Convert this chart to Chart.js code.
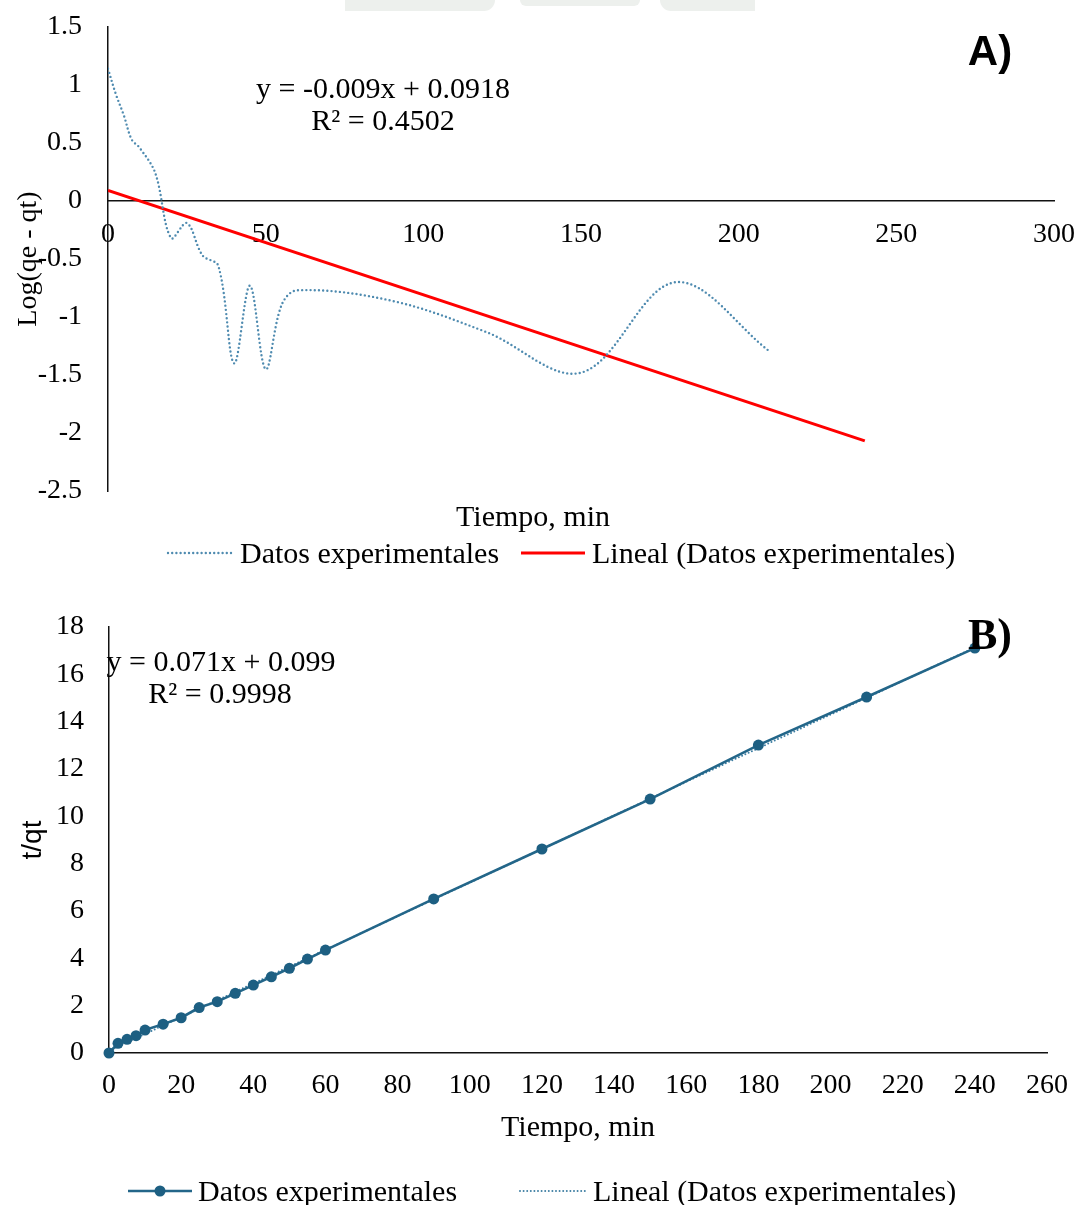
<!DOCTYPE html>
<html>
<head>
<meta charset="utf-8">
<script src="https://cdn.jsdelivr.net/npm/chart.js@4.4.1/dist/chart.umd.min.js"></script>
<style>
    body { margin: 0; width: 1074px; height: 1205px; overflow: hidden; background: #fff; position: relative; }
    canvas { display: block; position: absolute; left: 0; }
    #chartA { top: 0; }
    #chartB { top: 580px; }
    .mark { position: absolute; top: 0; height: 11px; background: #edf0ed; }
</style>
</head>
<body>
<div class="mark" style="left:345px;width:150px;border-radius:0 0 40px 0;"></div>
<div class="mark" style="left:520px;width:120px;border-radius:0 0 60px 60px;height:6px;"></div>
<div class="mark" style="left:660px;width:95px;border-radius:0 0 0 40px;"></div>
<canvas id="chartA" width="1092" height="580"></canvas>
<canvas id="chartB" width="1074" height="625"></canvas>
<script>
/*
 * Values
 */
// A) pseudo first order
const timeA = [0, 2.5, 5, 7.5, 10, 15, 20, 25, 30, 35, 40, 45, 50, 55, 60, 90, 120, 150, 180, 210];
const logValues = [1.14, 0.92, 0.74, 0.53, 0.46, 0.24, -0.32, -0.19, -0.47, -0.56, -1.40, -0.73, -1.45, -0.90, -0.77, -0.86, -1.13, -1.48, -0.70, -1.30];
const trendTimeA = [0, 240];
const trendValuesA = [0.092, -2.068];
const xTicksA = [0, 50, 100, 150, 200, 250, 300];
const yTicksA = [-2.5, -2, -1.5, -1, -0.5, 0, 0.5, 1, 1.5];

// B) pseudo second order
const timeB = [0, 2.5, 5, 7.5, 10, 15, 20, 25, 30, 35, 40, 45, 50, 55, 60, 90, 120, 150, 180, 210, 240];
const tqtValues = [0, 0.41, 0.58, 0.73, 0.97, 1.22, 1.49, 1.92, 2.17, 2.52, 2.87, 3.22, 3.58, 3.97, 4.35, 6.51, 8.62, 10.73, 13.01, 15.04, 17.11];
const trendTimeB = [0, 240];
const trendValuesB = [0.099, 17.14];
const xTicksB = [0, 20, 40, 60, 80, 100, 120, 140, 160, 180, 200, 220, 240, 260];
const yTicksB = [0, 2, 4, 6, 8, 10, 12, 14, 16, 18];

const serif = '"Liberation Serif", "Times New Roman", serif';
const sans = '"Liberation Sans", Arial, sans-serif';

function toPoints(xs, ys) {
    let pts = [];
    for (let i = 0; i < xs.length; i++) {
        pts.push({x: xs[i], y: ys[i]});
    }
    return pts;
}

// Draws the free texts (equations, panel letter, titles) and the legend
const overlayPlugin = {
    id: 'overlay',
    afterDraw: (chart, args, options) => {
        const {ctx} = chart;
        ctx.save();
        ctx.fillStyle = '#000';
        ctx.textBaseline = 'middle';

        (options.texts || []).forEach(t => {
            ctx.font = t.font;
            ctx.textAlign = t.align || 'center';
            if (t.rotate) {
                ctx.save();
                ctx.translate(t.x, t.y);
                ctx.rotate(-Math.PI / 2);
                ctx.fillText(t.text, 0, 0);
                ctx.restore();
            } else {
                ctx.fillText(t.text, t.x, t.y);
            }
        });

        (options.legend || []).forEach(item => {
            const ds = chart.data.datasets[item.dataset];
            ctx.save();
            ctx.strokeStyle = ds.borderColor;
            ctx.lineWidth = ds.borderWidth;
            ctx.lineCap = ds.borderCapStyle || 'butt';
            ctx.setLineDash(ds.borderDash || []);
            ctx.beginPath();
            ctx.moveTo(item.x1, item.y);
            ctx.lineTo(item.x2, item.y);
            ctx.stroke();
            if (ds.pointRadius > 0) {
                ctx.setLineDash([]);
                ctx.fillStyle = ds.pointBackgroundColor;
                ctx.beginPath();
                ctx.arc((item.x1 + item.x2) / 2, item.y, ds.pointRadius, 0, Math.PI * 2);
                ctx.fill();
            }
            ctx.restore();
            ctx.font = '30px ' + serif;
            ctx.textAlign = 'left';
            ctx.fillText(item.text, item.textX, item.y + 2);
        });
        ctx.restore();
    }
};

// Fixed axis sizes so the plot area sits where it does in the picture
function fixYAxis(width) {
    return (scale) => {
        scale.width = width;
        scale.paddingTop = 0;
        scale.paddingBottom = 0;
    };
}

function fixXAxis(height) {
    return (scale) => {
        scale.height = height;
        scale.paddingLeft = 0;
        scale.paddingRight = 0;
    };
}

function setTicks(values) {
    return (scale) => {
        scale.ticks = values.map(v => ({value: v}));
    };
}

const plainLabel = (value) => String(value);

// Sets up the Log(qe - qt) graph
function setupGraphA() {
    const ctx = document.getElementById('chartA');
    new Chart(ctx, {
        type: 'line',
        data: {
            datasets: [
                {
                    label: 'Datos experimentales',
                    data: toPoints(timeA, logValues),
                    borderColor: '#4f8bb0',
                    borderWidth: 2.4,
                    borderDash: [0, 4.2],
                    borderCapStyle: 'round',
                    pointRadius: 0,
                    tension: 0.35,
                    fill: false
                },
                {
                    label: 'Lineal (Datos experimentales)',
                    data: toPoints(trendTimeA, trendValuesA),
                    borderColor: '#ff0000',
                    borderWidth: 3,
                    pointRadius: 0,
                    tension: 0,
                    fill: false
                }
            ]
        },
        options: {
            responsive: false,
            animation: false,
            devicePixelRatio: 1,
            layout: { padding: {left: 0, top: 27, right: 38, bottom: 89} },
            scales: {
                x: {
                    type: 'linear',
                    min: 0,
                    max: 300,
                    position: {y: 0},
                    afterBuildTicks: setTicks(xTicksA),
                    afterFit: fixXAxis(0),
                    grid: { display: true, color: 'rgba(0,0,0,0)', drawTicks: false },
                    border: { display: true, color: '#111', width: 1.5 },
                    ticks: { color: '#000', padding: 17, maxRotation: 0, callback: plainLabel, font: {family: serif, size: 28} }
                },
                y: {
                    type: 'linear',
                    min: -2.5,
                    max: 1.5,
                    afterBuildTicks: setTicks(yTicksA),
                    afterFit: fixYAxis(108),
                    grid: { display: true, color: 'rgba(0,0,0,0)', drawTicks: false },
                    border: { display: true, color: '#111', width: 1.5 },
                    ticks: { color: '#000', padding: 26, callback: plainLabel, font: {family: serif, size: 28} }
                }
            },
            plugins: {
                legend: { display: false },
                tooltip: { enabled: false },
                overlay: {
                    texts: [
                        {text: 'y = -0.009x + 0.0918', x: 383, y: 90, font: '30px ' + serif},
                        {text: 'R² = 0.4502', x: 383, y: 122, font: '30px ' + serif},
                        {text: 'A)', x: 990, y: 53, font: 'bold 42px ' + sans},
                        {text: 'Tiempo, min', x: 533, y: 518, font: '30px ' + serif},
                        {text: 'Log(qe - qt)', x: 29, y: 259, font: '28px ' + serif, rotate: true}
                    ],
                    legend: [
                        {dataset: 0, x1: 168, x2: 234, y: 553, textX: 240, text: 'Datos experimentales'},
                        {dataset: 1, x1: 521, x2: 585, y: 553, textX: 592, text: 'Lineal (Datos experimentales)'}
                    ]
                }
            }
        },
        plugins: [overlayPlugin]
    });
}

// Sets up the t/qt graph
function setupGraphB() {
    const ctx = document.getElementById('chartB');
    new Chart(ctx, {
        type: 'line',
        data: {
            datasets: [
                {
                    label: 'Datos experimentales',
                    data: toPoints(timeB, tqtValues),
                    borderColor: '#236689',
                    backgroundColor: '#1d5f82',
                    pointBackgroundColor: '#1d5f82',
                    pointBorderWidth: 0,
                    borderWidth: 2.6,
                    pointRadius: 5.5,
                    tension: 0,
                    clip: false,
                    fill: false
                },
                {
                    label: 'Lineal (Datos experimentales)',
                    data: toPoints(trendTimeB, trendValuesB),
                    borderColor: '#3f7fa3',
                    borderWidth: 2,
                    borderDash: [0, 3.6],
                    borderCapStyle: 'round',
                    pointRadius: 0,
                    tension: 0,
                    fill: false
                }
            ]
        },
        options: {
            responsive: false,
            animation: false,
            devicePixelRatio: 1,
            layout: { padding: {left: 0, top: 47, right: 27, bottom: 92} },
            scales: {
                x: {
                    type: 'linear',
                    min: 0,
                    max: 260,
                    position: 'bottom',
                    afterBuildTicks: setTicks(xTicksB),
                    afterFit: fixXAxis(60),
                    grid: { display: true, color: 'rgba(0,0,0,0)', drawTicks: false },
                    border: { display: true, color: '#111', width: 1.5 },
                    ticks: { color: '#000', padding: 16, maxRotation: 0, autoSkip: false, callback: plainLabel, font: {family: serif, size: 28} }
                },
                y: {
                    type: 'linear',
                    min: 0,
                    max: 18,
                    afterBuildTicks: setTicks(yTicksB),
                    afterFit: fixYAxis(109),
                    grid: { display: true, color: 'rgba(0,0,0,0)', drawTicks: false },
                    border: { display: true, color: '#111', width: 1.5 },
                    ticks: { color: '#000', padding: 25, callback: plainLabel, font: {family: serif, size: 28} }
                }
            },
            plugins: {
                legend: { display: false },
                tooltip: { enabled: false },
                overlay: {
                    texts: [
                        {text: 'y = 0.071x + 0.099', x: 221, y: 83, font: '30px ' + serif},
                        {text: 'R² = 0.9998', x: 220, y: 115, font: '30px ' + serif},
                        {text: 'B)', x: 990, y: 58, font: 'bold 44px ' + serif},
                        {text: 'Tiempo, min', x: 578, y: 548, font: '30px ' + serif},
                        {text: 't/qt', x: 33, y: 260, font: '28px ' + sans, rotate: true}
                    ],
                    legend: [
                        {dataset: 0, x1: 128, x2: 192, y: 611, textX: 198, text: 'Datos experimentales'},
                        {dataset: 1, x1: 520, x2: 588, y: 611, textX: 593, text: 'Lineal (Datos experimentales)'}
                    ]
                }
            }
        },
        plugins: [overlayPlugin]
    });
}

setupGraphA();
setupGraphB();
</script>
</body>
</html>
